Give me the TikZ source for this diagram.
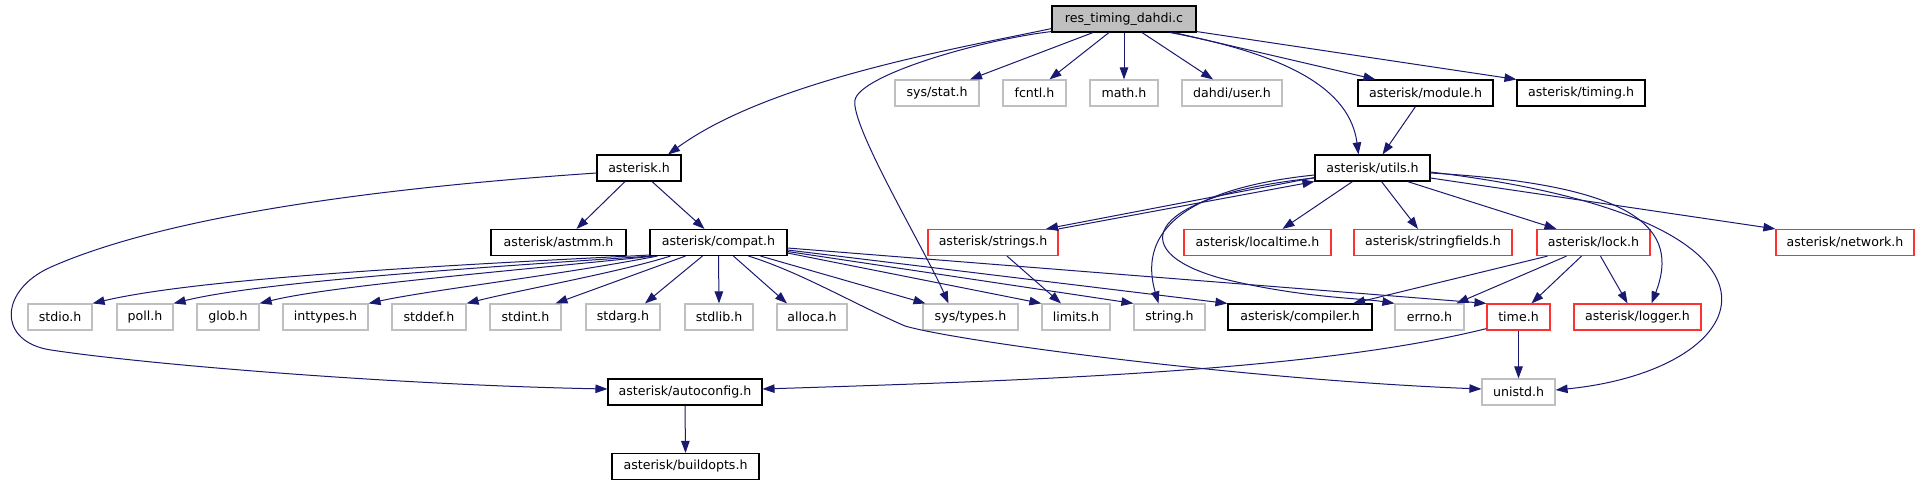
\documentclass[tikz,border=0pt]{standalone}
\usepackage{fontspec}
\setmainfont{DejaVu Sans}
\usetikzlibrary{arrows.meta,calc}
\definecolor{edgec}{HTML}{191970}
\definecolor{grayb}{HTML}{BFBFBF}
\definecolor{redb}{HTML}{FF3030}
\begin{document}
\begin{tikzpicture}[x=1pt,y=-1pt,
  box/.style={draw, inner sep=0pt, minimum height=26pt, fill=white,
    font=\fontsize{12.6pt}{15pt}\selectfont},
  blk/.style={box, draw=black, line width=1.1pt},
  gry/.style={box, draw=grayb, line width=1.2pt},
  rdb/.style={box, draw=redb, line width=1.2pt},
  rootb/.style={box, draw=black, line width=1.1pt, fill=grayb},
  edg/.style={draw=edgec, line width=1pt, -{Triangle[length=12pt,width=8.5pt]}}]
\useasboundingbox (0,0) rectangle (1920,485);
\fill[white] (0,0) rectangle (1920,485);
% row 0
\node[rootb, minimum width=144pt] (root) at (1124,19) {res\_timing\_dahdi.c};
% row 1
\node[gry, minimum width=84pt] (sysstat) at (937,93) {sys/stat.h};
\node[gry, minimum width=63pt] (fcntl) at (1034.5,93) {fcntl.h};
\node[gry, minimum width=68pt] (math) at (1124,93) {math.h};
\node[gry, minimum width=100pt] (dahdiuser) at (1232,93) {dahdi/user.h};
\node[blk, minimum width=135pt] (module) at (1425.5,93) {asterisk/module.h};
\node[blk, minimum width=128pt] (timing) at (1581,93) {asterisk/timing.h};
% row 2
\node[blk, minimum width=84pt] (asteriskh) at (639,168) {asterisk.h};
\node[blk, minimum width=115pt] (utils) at (1372.5,168) {asterisk/utils.h};
% row 3
\node[blk, minimum width=135pt] (astmm) at (558.5,242.5) {asterisk/astmm.h};
\node[blk, minimum width=137pt] (compat) at (718.5,242.5) {asterisk/compat.h};
\node[rdb, minimum width=130pt] (strings) at (993,242.5) {asterisk/strings.h};
\node[rdb, minimum width=147pt] (localtime) at (1257.5,242.5) {asterisk/localtime.h};
\node[rdb, minimum width=158pt] (stringfields) at (1433,242.5) {asterisk/stringfields.h};
\node[rdb, minimum width=113pt] (lock) at (1593.5,242.5) {asterisk/lock.h};
\node[rdb, minimum width=138pt] (network) at (1845,242.5) {asterisk/network.h};
% row 4
\node[gry, minimum width=64pt] (stdio) at (60,317) {stdio.h};
\node[gry, minimum width=56pt] (poll) at (145,317) {poll.h};
\node[gry, minimum width=62pt] (glob) at (228,317) {glob.h};
\node[gry, minimum width=85pt] (inttypes) at (325.5,317) {inttypes.h};
\node[gry, minimum width=74pt] (stddef) at (429,317) {stddef.h};
\node[gry, minimum width=71pt] (stdint) at (525.5,317) {stdint.h};
\node[gry, minimum width=74pt] (stdarg) at (623,317) {stdarg.h};
\node[gry, minimum width=68pt] (stdlib) at (719,317) {stdlib.h};
\node[gry, minimum width=70pt] (alloca) at (812,317) {alloca.h};
\node[gry, minimum width=95pt] (systypes) at (970.5,317) {sys/types.h};
\node[gry, minimum width=68pt] (limits) at (1076,317) {limits.h};
\node[gry, minimum width=71pt] (string) at (1169.5,317) {string.h};
\node[blk, minimum width=144pt] (compiler) at (1300,317) {asterisk/compiler.h};
\node[gry, minimum width=69pt] (errno) at (1429.5,317) {errno.h};
\node[rdb, minimum width=63pt] (time) at (1518.5,317) {time.h};
\node[rdb, minimum width=127pt] (logger) at (1637.5,317) {asterisk/logger.h};
% row 5
\node[blk, minimum width=154pt] (autoconfig) at (685,392) {asterisk/autoconfig.h};
\node[gry, minimum width=73pt] (unistd) at (1518.5,392) {unistd.h};
% row 6
\node[blk, minimum width=147pt] (buildopts) at (685.5,466.5) {asterisk/buildopts.h};

% edges from root
\draw[edg] ($(root.south west)+(0,-4)$) .. controls (960,48) and (770,80) .. ($(asteriskh.north)+(29,0)$);
\draw[edg] ($(root.south west)+(0,-1)$) .. controls (980,40) and (860,75) .. (855,100)
   .. controls (850,125) and (925,250) .. ($(systypes.north)+(-22,0)$);
\draw[edg] ($(root.south)+(-31,0)$) -- ($(sysstat.north)+(33,0)$);
\draw[edg] ($(root.south)+(-15,0)$) -- ($(fcntl.north)+(15,0)$);
\draw[edg] (root.south) -- (math.north);
\draw[edg] ($(root.south)+(18,0)$) -- ($(dahdiuser.north)+(-19,0)$);
\draw[edg] ($(root.south)+(46,0)$) .. controls (1290,55) and (1350,90) .. ($(utils.north)+(-14,0)$);
\draw[edg] ($(root.south)+(50,0)$) -- ($(module.north)+(-50,0)$);
\draw[edg] ($(root.south east)+(0,-1)$) -- (timing.north west);
\draw[edg] ($(module.south)+(-10,0)$) -- ($(utils.north)+(10,0)$);

% asterisk.h
\draw[edg] ($(asteriskh.west)+(0,5)$) .. controls (420,185) and (180,210) .. (51,267)
   .. controls (-1,290) and (-3,342) .. (51,350)
   .. controls (150,365) and (400,385) .. ($(autoconfig.west)+(0,-3)$);
\draw[edg] ($(asteriskh.south)+(-14,0)$) -- ($(astmm.north)+(18,0)$);
\draw[edg] ($(asteriskh.south)+(13,0)$) -- ($(compat.north)+(-14,0)$);

% compat.h
\draw[edg] ($(compat.south west)+(0,-1)$) .. controls (450,265) and (200,278) .. (stdio.north east);
\draw[edg] ($(compat.south west)+(2,0)$) .. controls (470,268) and (260,282) .. (poll.north east);
\draw[edg] ($(compat.south west)+(5,0)$) .. controls (500,272) and (330,286) .. (glob.north east);
\draw[edg] ($(compat.south west)+(8,0)$) .. controls (560,275) and (430,290) .. (inttypes.north east);
\draw[edg] ($(compat.south west)+(21,0)$) .. controls (620,272) and (520,290) .. (stddef.north east);
\draw[edg] ($(compat.south west)+(36,0)$) -- ($(stdint.north)+(30,0)$);
\draw[edg] ($(compat.south west)+(53,0)$) -- ($(stdarg.north)+(22,0)$);
\draw[edg] (compat.south) -- (stdlib.north);
\draw[edg] ($(compat.south west)+(84,0)$) -- ($(alloca.north)+(-25,0)$);
\draw[edg] ($(compat.south west)+(99,0)$) .. controls (800,272) and (850,302) .. (905,326)
   .. controls (960,342) and (1250,380) .. ($(unistd.west)+(0,-3)$);
\draw[edg] ($(compat.south west)+(111,0)$) -- ($(systypes.north)+(-45,0)$);
\draw[edg] ($(compat.east)+(0,10.5)$) -- (limits.north west);
\draw[edg] ($(compat.east)+(0,9)$) -- (string.north west);
\draw[edg] ($(compat.east)+(0,7.5)$) -- (compiler.north west);
\draw[edg] ($(compat.east)+(0,5.5)$) -- (time.north west);

% strings.h
\draw[edg] ($(strings.south)+(14,0)$) -- ($(limits.north)+(-15,0)$);
\draw[edg] (strings.north east) -- (utils.south west);

% utils.h
\draw[edg] ($(utils.south west)+(0,-4)$) -- ($(strings.north)+(53,0)$);
\draw[edg] ($(utils.west)+(0,7)$) .. controls (1170,190) and (1140,240) .. ($(string.north)+(-11,0)$);
\draw[edg] ($(utils.west)+(0,10)$) .. controls (1150,195) and (1120,250) .. (1220,278)
   .. controls (1300,298) and (1360,298) .. (errno.north west);
\draw[edg] ($(utils.south)+(-20,0)$) -- ($(localtime.north)+(25,0)$);
\draw[edg] ($(utils.south)+(9,0)$) -- ($(stringfields.north)+(-15,0)$);
\draw[edg] ($(utils.south)+(35,0)$) -- ($(lock.north)+(-37,0)$);
\draw[edg] ($(utils.east)+(0,10)$) -- (network.north west);
\draw[edg] ($(utils.east)+(0,5)$) .. controls (1640,185) and (1680,230) .. ($(logger.north)+(14,0)$);
\draw[edg] ($(utils.east)+(0,4)$) .. controls (1830,220) and (1760,370) .. ($(unistd.east)+(0,-2)$);

% lock.h
\draw[edg] ($(lock.south)+(-46,0)$) -- ($(compiler.north)+(53,0)$);
\draw[edg] ($(lock.south)+(-27,0)$) -- ($(errno.north)+(27,0)$);
\draw[edg] ($(lock.south)+(-12,0)$) -- ($(time.north)+(13,0)$);
\draw[edg] ($(lock.south)+(7,0)$) -- ($(logger.north)+(-10,0)$);

% time.h
\draw[edg] (time.south) -- (unistd.north);
\draw[edg] ($(time.south west)+(0,-2)$) .. controls (1320,370) and (1050,380) .. ($(autoconfig.east)+(0,-3)$);

% autoconfig
\draw[edg] (autoconfig.south) -- (buildopts.north);
\end{tikzpicture}
\end{document}
